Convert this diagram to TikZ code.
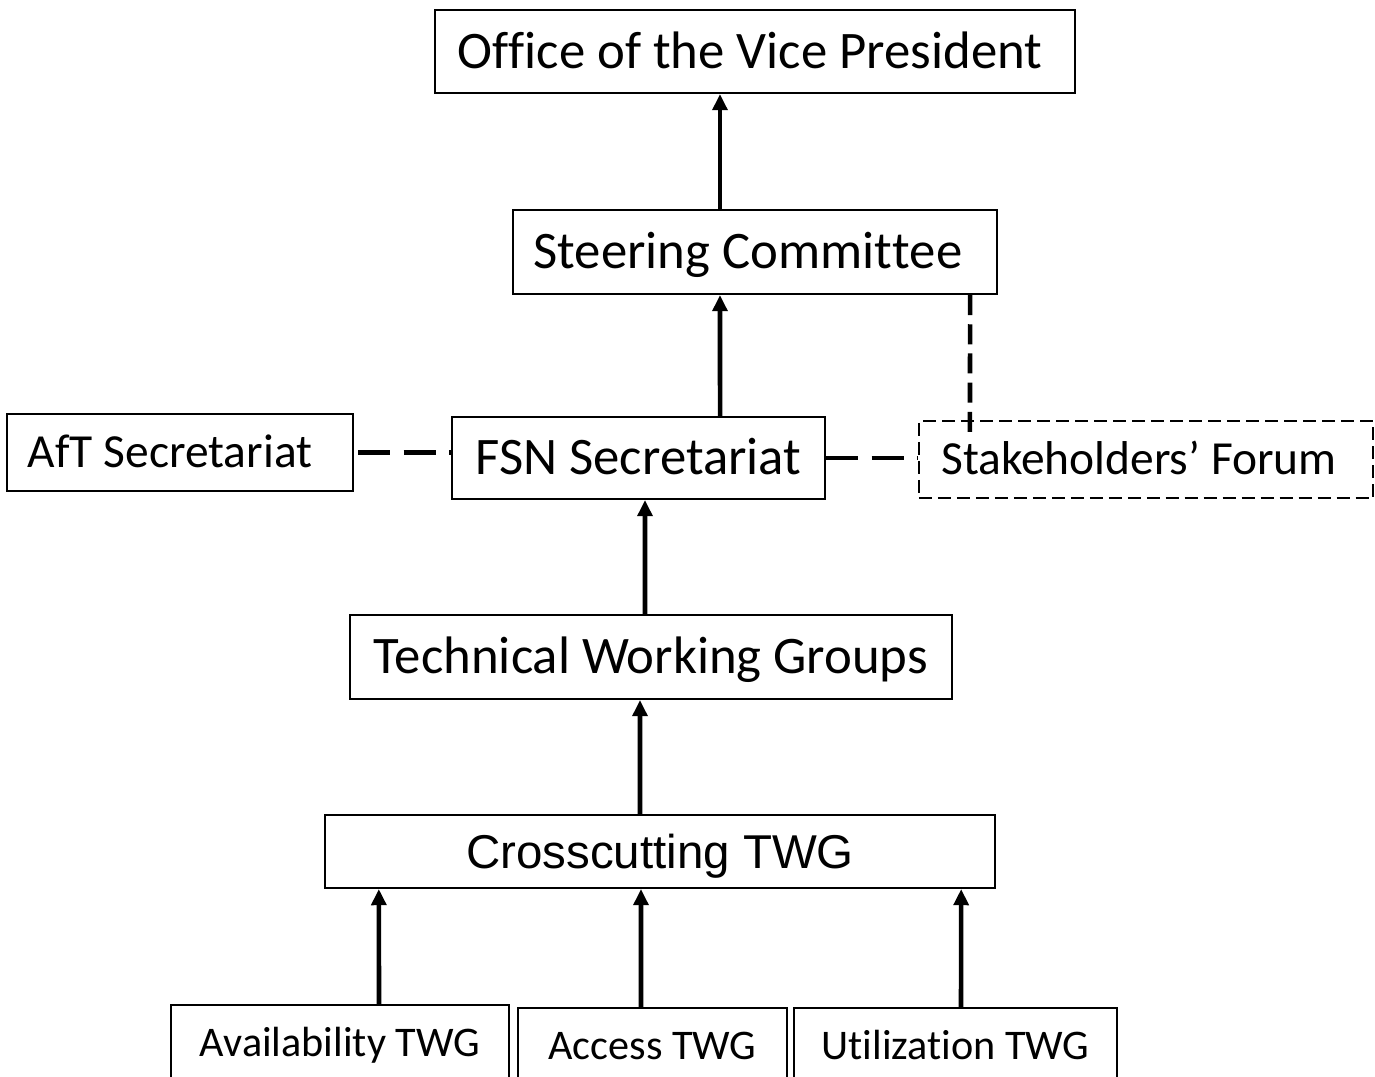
\documentclass[tikz,border=0pt]{standalone}
\usepackage{fontspec}
\setmainfont{Carlito}[RawFeature={-liga;-clig;-dlig}]
\newfontfamily\arialfont{Liberation Sans}
\usetikzlibrary{arrows.meta}
% split letter pairs that the font would otherwise join
\newcommand\brk{\kern0pt}
% nudge a label to the left inside its box
\newcommand\lft[1]{\hspace*{-#1}}
\begin{document}
\begin{tikzpicture}[x=0.01cm,y=-0.01cm,
  box/.style={draw,line width=0.6pt,inner sep=0pt,rectangle},
  big/.style={box,font=\fontsize{15}{18}\selectfont,text height=10pt,text depth=0.4pt},
  mid/.style={box,font=\fontsize{13.5}{16}\selectfont,text height=9pt,text depth=0.3pt},
  small/.style={box,font=\fontsize{12}{14}\selectfont,text height=8pt,text depth=0.3pt},
  sans/.style={box,font=\arialfont\fontsize{13.5}{16}\selectfont,text height=10pt,text depth=0.3pt},
  up/.style={line width=1.3pt,-{Triangle[length=4.6pt,width=4.2pt]}},
  link/.style={line width=1.3pt,dash pattern=on 9.1pt off 3.8pt},
  vlink/.style={line width=1.3pt,dash pattern=on 5.7pt off 2.6pt},
]
\useasboundingbox (0,0) rectangle (1375,1077);
\clip (0,0) rectangle (1375,1077);

% boxes
\node[big,minimum width=6.4cm,minimum height=0.83cm] (office) at (755,51.5) {\lft{0.1cm}Of\brk f\brk ice of the Vice President};
\node[big,minimum width=4.84cm,minimum height=0.84cm] (steer) at (755,252) {\lft{0.14cm}Steering Commit\brk t\brk ee};
\node[mid,minimum width=3.46cm,minimum height=0.77cm] (aft) at (180,452.5) {\lft{0.2cm}AfT Secretariat};
\node[big,minimum width=3.73cm,minimum height=0.82cm] (fsn) at (638.5,458) {FSN Secretariat};
\node[mid,dash pattern=on 3.7pt off 1.7pt,minimum width=4.54cm,minimum height=0.77cm] (stake) at (1146,459.5) {\lft{0.14cm}Stakeholders’ Forum};
\node[big,minimum width=6.02cm,minimum height=0.84cm] (twg) at (651,657) {Technical Working Groups};
\node[sans,minimum width=6.7cm,minimum height=0.73cm] (cross) at (660,851.5) {Crosscutting TWG};
\node[small,minimum width=3.38cm,minimum height=0.76cm] (avail) at (340,1043) {Availability TWG};
\node[small,minimum width=2.69cm,minimum height=0.76cm] (access) at (652.5,1046) {Access TWG};
\node[small,minimum width=3.23cm,minimum height=0.76cm] (util) at (955.5,1046) {Utilizat\brk ion TWG};

% reporting lines
\draw[up] ([xshift=-0.35cm]steer.north) -- ([xshift=-0.35cm]office.south);
\draw[up] ([xshift=0.815cm]fsn.north) -- ([xshift=-0.35cm]steer.south);
\draw[up] ([xshift=-0.06cm]twg.north) -- ([xshift=0.065cm]fsn.south);
\draw[up] ([xshift=-0.2cm]cross.north) -- ([xshift=-0.11cm]twg.south);
\draw[up] ([xshift=0.39cm]avail.north) -- ([xshift=-2.81cm]cross.south);
\draw[up] ([xshift=-0.115cm]access.north) -- ([xshift=-0.19cm]cross.south);
\draw[up] ([xshift=0.055cm]util.north) -- ([xshift=3.01cm]cross.south);

% consultative links
\draw[link,dash phase=11.7pt] (aft.east) -- (aft.east -| fsn.west);
\draw[link] (fsn.east) -- (fsn.east -| stake.west);
\draw[vlink] ([xshift=2.15cm]steer.south) -- ([xshift=-1.76cm,yshift=-0.2cm]stake.north);
\end{tikzpicture}
\end{document}
